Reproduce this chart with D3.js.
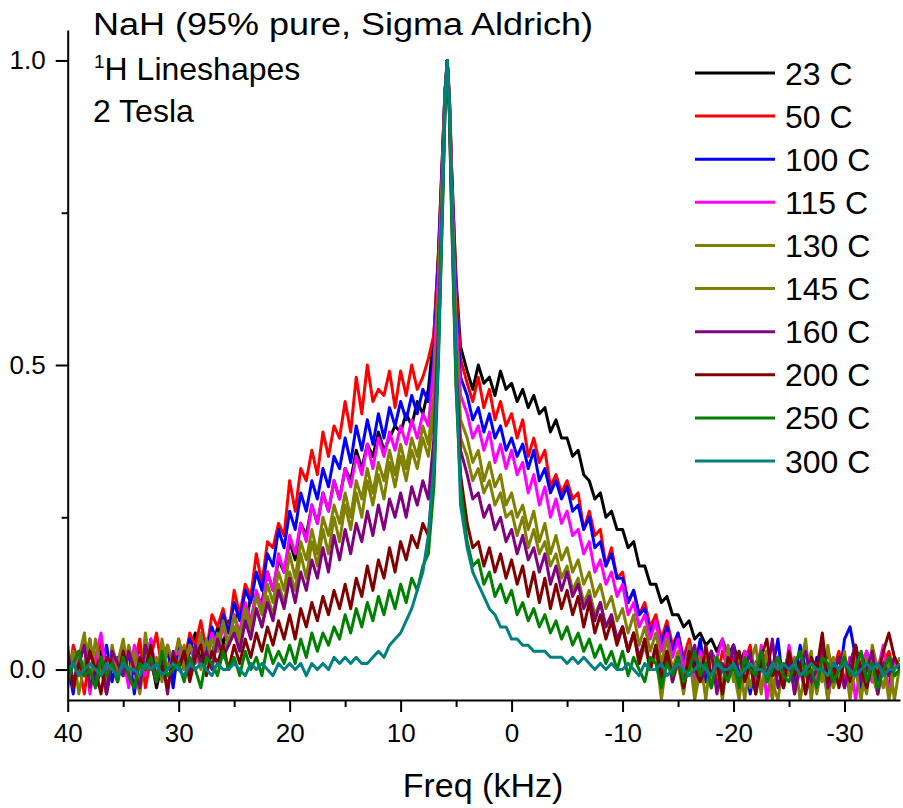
<!DOCTYPE html>
<html>
<head>
<meta charset="utf-8">
<script src="https://cdn.jsdelivr.net/npm/d3@7"></script>
<style>
  html, body { margin: 0; padding: 0; background: #fff; }
  svg { display: block; font-family: "Liberation Sans", Arial, sans-serif; }
</style>
</head>
<body>
<div id="chart"></div>
<script>
// NaH 1H Linienformen bei 2 Tesla, Intensität in % vom Maximum

const freqKHz = [
  40,39.5,39,38.5,38,37.5,37,36.5,36,35.5,
  35,34.5,34,33.5,33,32.5,32,31.5,31,30.5,
  30,29.5,29,28.5,28,27.5,27,26.5,26,25.5,
  25,24.5,24,23.5,23,22.5,22,21.5,21,20.5,
  20,19.5,19,18.5,18,17.5,17,16.5,16,15.5,
  15,14.5,14,13.5,13,12.5,12,11.5,11,10.5,
  10,9.5,9,8.5,8,7.5,
  7,6.6,6.2,6,5.8,5.6,5.4,5,4.6,
  4,3.5,3,2.5,2,1.5,1,0.5,
  0,-0.5,-1,-1.5,-2,-2.5,-3,-3.5,-4,-4.5,
  -5,-5.5,-6,-6.5,-7,-7.5,-8,-8.5,-9,-9.5,
  -10,-10.5,-11,-11.5,-12,-12.5,-13,-13.5,-14,-14.5,
  -15,-15.5,-16,-16.5,-17,-17.5,-18,-18.5,-19,-19.5,
  -20,-20.5,-21,-21.5,-22,-22.5,-23,-23.5,-24,-24.5,
  -25,-25.5,-26,-26.5,-27,-27.5,-28,-28.5,-29,-29.5,
  -30,-30.5,-31,-31.5,-32,-32.5,-33,-33.5,-34,-34.5,-35
];

const temperatures = ["23 C","50 C","100 C","115 C","130 C","145 C","160 C","200 C","250 C","300 C"];

const i23 = [
  2,-3,1,4,-2,0,3,-4,1,-1, 3,-2,0,4,-1,2,-3,1,3,0, 4,0,3,6,1,5,2,7,4,8,
  8,10,7,12,12,11,16,13,18,16, 21,18,24,22,27,24,29,26,31,28, 33,31,36,33,37,35,39,36,38,40,
  39,42,40,44,42,46,
  55,68,86,95,100,94,82,64,53,
  49,46,50,47,48,45,49,46, 47,44,46,43,45,42,43,39,41,38, 38,35,36,32,31,28,29,25,26,23,
  23,20,21,17,17,14,14,11,12,9, 9,7,8,5,6,4,5,3,5,2, 4,1,3,2,0,3,1,-1,2,0,
  2,-2,1,3,-1,0,2,-3,1,0, -2,2,0,-1,3,-2,1,0,-3,2,0
];
const i50 = [
  -3,4,1,-4,3,0,5,-2,2,-1, 4,-2,1,5,-3,2,6,0,3,-1, 5,1,6,4,8,3,9,7,10,6,
  13,9,14,12,19,14,21,20,24,22, 31,26,33,31,36,32,39,35,40,38, 44,39,48,42,50,44,46,45,49,43,
  49,45,50,46,48,51,
  55,68,86,95,100,94,82,63,51,
  47,44,48,43,46,41,44,40, 42,38,41,35,38,34,36,30,32,29, 31,28,29,23,26,22,23,17,20,15,
  16,11,13,9,11,7,9,5,8,4, 6,2,5,1,4,0,3,-2,3,0, 2,-3,1,4,-2,0,3,-4,1,-1,
  3,-2,0,4,-4,1,2,-3,0,3, -2,1,4,-3,0,2,-4,1,3,-1,0
];
const i100 = [
  1,-4,3,-1,5,-3,0,4,-2,2, -1,3,-4,2,0,5,-2,1,4,-3, 4,0,5,2,6,3,7,4,9,6,
  11,8,13,11,16,13,19,17,23,20, 26,23,29,26,31,28,33,30,35,33, 38,34,40,36,41,37,42,38,43,40,
  44,41,45,42,46,44,
  52,67,85,95,100,93,81,60,48,
  45,41,43,39,42,38,40,36, 38,35,37,33,36,31,33,29,31,28, 30,26,27,23,25,20,21,17,19,15,
  15,11,13,9,10,6,8,4,7,3, 6,1,4,0,5,-2,3,1,-3,2, 4,-1,2,-4,1,3,-2,0,5,-3,
  1,-2,4,0,-4,2,-1,3,0,-2, 5,7,2,-3,0,3,-2,1,-4,2,0
];
const i115 = [
  -2,3,0,5,-4,2,6,-1,3,0, 2,-3,4,1,-1,5,-2,3,0,2, 3,0,4,1,5,2,6,3,7,4,
  9,6,11,8,13,10,16,13,19,16, 22,19,24,21,27,24,29,26,31,28, 33,30,35,32,37,33,38,35,39,36,
  40,37,41,38,42,40,
  50,65,84,94,100,93,80,58,45,
  42,38,40,36,39,34,37,33, 36,32,34,29,32,27,30,25,28,24, 26,22,23,19,21,16,18,14,16,12,
  14,9,11,7,9,5,8,3,6,2, 5,0,4,-2,3,1,-3,2,5,-1, 1,-4,3,0,-2,4,-5,1,2,-3,
  4,-1,0,-4,2,-2,3,-5,1,0, -3,2,-5,1,3,-2,0,4,-4,1,0
];
const i130 = [
  4,-3,2,6,-2,5,0,-4,3,1, 5,-1,3,-3,6,0,2,-2,4,1, 5,0,4,2,6,1,5,3,8,4,
  9,5,10,7,12,9,14,11,16,13, 19,15,21,18,23,19,25,22,27,24, 29,25,31,28,33,29,34,31,36,32,
  37,33,38,35,40,37,
  45,62,83,94,100,93,79,55,41,
  38,34,36,31,34,30,32,27, 29,25,27,23,26,21,24,19,22,18, 20,16,18,14,16,12,14,10,12,8,
  10,6,9,4,7,3,6,1,5,0, 3,-2,4,-4,2,-5,3,0,-3,4, -2,3,-5,1,4,-3,0,-5,2,-1,
  3,-4,0,5,-5,1,-2,4,-3,0, 2,-5,3,-1,-4,4,0,-3,2,-5,1
];
const i145 = [
  -2,3,-4,1,5,-1,2,-3,4,0, -1,4,0,-4,3,1,-2,5,0,2, 1,4,-1,3,0,5,2,6,3,5,
  7,4,9,6,10,7,12,9,14,11, 16,13,19,15,21,17,23,19,25,21, 27,23,29,25,31,27,32,28,34,30,
  35,31,36,33,38,35,
  42,60,82,94,100,92,78,53,38,
  35,31,33,29,31,27,29,25, 26,22,25,20,23,19,21,17,19,15, 17,13,15,11,13,9,11,7,9,5,
  7,3,6,1,4,0,3,-5,2,-2, 1,-4,3,-5,0,2,-3,1,-5,3, 0,-5,2,-3,1,-4,3,-2,-5,1,
  -1,2,-5,0,3,-4,1,-5,2,-2, 3,-4,0,-5,2,-1,-4,1,-5,0,2
];
const i160 = [
  3,-2,1,4,-3,0,2,-4,3,1, -1,3,0,-3,4,1,-2,2,-4,3, 0,3,-1,4,1,3,0,5,2,4,
  6,3,8,5,10,7,11,8,13,10, 15,11,16,13,18,15,20,16,22,18, 23,19,24,21,26,22,27,23,28,25,
  29,25,30,27,31,28,
  38,56,80,93,100,92,76,50,36,
  32,28,29,25,27,23,25,21, 23,19,22,18,20,16,19,14,17,13, 16,12,14,10,12,8,11,7,9,5,
  7,3,6,2,5,0,4,-1,3,-2, 2,-3,1,4,-2,0,3,-4,1,-1, 4,-2,0,3,-4,1,-1,5,-3,0,
  2,-4,1,3,-2,0,4,-3,-1,2, -3,1,4,-2,0,3,-4,1,-1,2,0
];
const i200 = [
  2,-3,1,-1,3,0,-4,2,1,-2, 3,-1,-3,2,0,4,-2,1,-3,2, 0,3,-2,2,4,-1,3,1,4,0,
  4,1,5,2,6,3,7,4,8,5, 9,5,10,7,11,8,12,9,13,10, 14,10,15,12,17,13,18,15,20,16,
  21,18,22,20,24,22,
  33,52,78,92,100,91,75,47,32,
  24,20,21,17,20,16,19,15, 18,14,17,12,16,11,15,10,14,10, 13,9,12,7,11,6,9,5,8,4,
  7,3,6,1,5,0,4,-2,3,-1, 2,-3,3,0,-2,4,-1,1,-4,2, 0,3,-2,1,-4,2,5,-1,0,-3,
  3,-1,1,-4,2,0,6,-2,1,-3, 2,-2,4,0,-3,1,-1,3,6,2,0
];
const i250 = [
  -2,1,3,-1,0,-3,2,-1,1,-2, 2,-1,-3,1,0,2,-2,3,-1,0, 1,-2,2,0,-3,2,1,-1,3,0,
  2,-1,3,0,2,-1,4,1,3,1, 4,1,5,2,6,3,6,4,7,5, 9,6,10,7,11,8,12,9,13,10,
  14,11,15,13,17,19,
  30,50,77,92,100,91,74,46,30,
  21,17,18,14,16,12,14,11, 13,9,11,8,10,7,9,6,8,5, 7,4,6,3,5,2,4,1,3,0,
  3,-1,2,0,-2,2,1,-3,1,-1, 2,-2,0,3,-1,1,-3,2,0,-2, 1,-3,2,0,-1,3,-2,0,2,-1,
  -2,1,3,-1,0,-3,2,1,-2,0, 2,-1,0,3,-2,1,-3,0,2,-1,0
];
const i300 = [
  0,1,-1,0,1,0,-1,1,0,-1, 1,0,0,-1,1,0,1,-1,0,1, 0,-1,1,0,1,0,-1,1,0,0,
  1,0,-1,1,0,1,0,-1,1,0, 1,0,1,-1,1,0,1,0,2,1, 2,1,2,1,1,2,3,2,4,5,
  6,8,10,13,16,22,
  34,52,80,94,100,93,78,50,27,
  20,16,14,12,10,9,7,7, 5,5,4,4,3,3,3,2,2,2, 1,2,1,2,1,0,1,0,1,0,
  0,1,0,-1,1,0,0,1,-1,0, 1,0,-1,0,1,0,-1,1,0,0, 1,-1,0,1,0,0,-1,1,0,1,
  0,1,-1,0,1,0,0,-1,1,0, 1,0,-1,0,1,0,1,-1,0,0,1
];
const intensities = [i23, i50, i100, i115, i130, i145, i160, i200, i250, i300];

const xMajorTicks = [40, 30, 20, 10, 0, -10, -20, -30];
const xMinorTicks = [35, 25, 15, 5, -5, -15, -25];
const yMajorTicks = [0, 0.5, 1.0];
const yMinorTicks = [0.25, 0.75];
const titleLines = ["NaH (95% pure, Sigma Aldrich)", "Lineshapes", "2 Tesla"];

// Farben wie in Origin
const lineColors = ["#000000", "#ff0000", "#0000ff", "#ff00ff", "#808000",
                    "#808000", "#800080", "#800000", "#008000", "#008080"];

const W = 903, H = 808;
const plot = { left: 67.7, right: 900, top: 30, bottom: 700 };

const svg = d3.select("#chart").append("svg")
    .attr("width", W)
    .attr("height", H);

const x = d3.scaleLinear().domain([40, -35]).range([plot.left, plot.right]);
const y = d3.scaleLinear().domain([-0.05, 1.05]).range([plot.bottom, plot.top]);

svg.append("clipPath").attr("id", "plotclip")
  .append("rect")
    .attr("x", plot.left).attr("y", plot.top)
    .attr("width", plot.right - plot.left).attr("height", plot.bottom - plot.top);

const line = d3.line()
    .x((d, i) => x(freqKHz[i]))
    .y(d => y(d / 100));

// Kurven: 23 C unten, 300 C oben
svg.append("g")
    .attr("clip-path", "url(#plotclip)")
  .selectAll("path")
  .data(intensities)
  .join("path")
    .attr("fill", "none")
    .attr("stroke", (d, i) => lineColors[i])
    .attr("stroke-width", 3)
    .attr("stroke-linejoin", "round")
    .attr("d", line);

// Achsen
function styleAxis(g) {
    g.selectAll("path.domain").attr("stroke", "#000").attr("stroke-width", 2);
    g.selectAll(".tick line").attr("stroke", "#000").attr("stroke-width", 2);
    g.selectAll(".tick text")
        .attr("fill", "#000")
        .style("font-family", '"Liberation Sans", Arial, sans-serif')
        .style("font-size", "26px");
}

svg.append("g")
    .attr("transform", `translate(0,${plot.bottom})`)
    .call(d3.axisBottom(x).tickValues(xMinorTicks).tickSize(7).tickSizeOuter(0).tickFormat(""))
    .call(g => g.select(".domain").remove())
    .call(styleAxis);

svg.append("g")
    .attr("transform", `translate(0,${plot.bottom})`)
    .call(d3.axisBottom(x).tickValues(xMajorTicks).tickSize(12).tickSizeOuter(0)
        .tickPadding(12).tickFormat(d => String(d)))
    .call(styleAxis);

svg.append("g")
    .attr("transform", `translate(${plot.left},0)`)
    .call(d3.axisLeft(y).tickValues(yMinorTicks).tickSize(6).tickSizeOuter(0).tickFormat(""))
    .call(g => g.select(".domain").remove())
    .call(styleAxis);

svg.append("g")
    .attr("transform", `translate(${plot.left},0)`)
    .call(d3.axisLeft(y).tickValues(yMajorTicks).tickSize(12).tickSizeOuter(0)
        .tickPadding(10).tickFormat(d3.format(".1f")))
    .call(styleAxis);

svg.append("text")
    .attr("x", 483).attr("y", 797)
    .attr("text-anchor", "middle")
    .style("font-size", "34px")
    .text("Freq (kHz)");

// Beschriftung oben links
svg.append("text")
    .attr("x", 93).attr("y", 35)
    .attr("textLength", 500).attr("lengthAdjust", "spacingAndGlyphs")
    .style("font-size", "31px")
    .text(titleLines[0]);

const sub = svg.append("text")
    .attr("x", 94).attr("y", 80)
    .style("font-size", "32px");
sub.append("tspan").attr("dy", -12).style("font-size", "19px").text("1");
sub.append("tspan").attr("dy", 12).text("H " + titleLines[1]);

svg.append("text")
    .attr("x", 93).attr("y", 122)
    .style("font-size", "32px")
    .text(titleLines[2]);

// Legende
const legendY = d3.scaleLinear().domain([0, temperatures.length - 1]).range([73, 461]);
const legend = svg.append("g")
  .selectAll("g")
  .data(temperatures)
  .join("g")
    .attr("transform", (d, i) => `translate(0,${legendY(i)})`);

legend.append("line")
    .attr("x1", 695).attr("x2", 775)
    .attr("stroke", (d, i) => lineColors[i])
    .attr("stroke-width", 3);

legend.append("text")
    .attr("x", 785).attr("y", 11.5)
    .style("font-size", "32px")
    .text(d => d);
</script>
</body>
</html>
